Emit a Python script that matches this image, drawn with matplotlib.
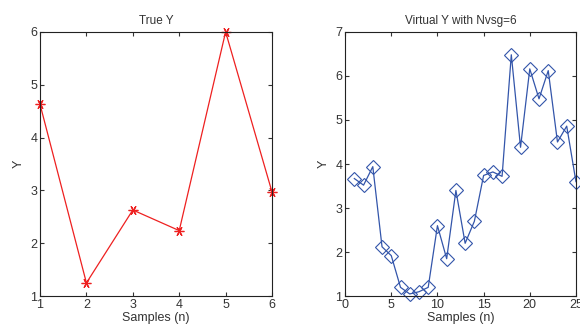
import matplotlib
matplotlib.use("Agg")
from matplotlib import pyplot as plt

# data
true_n = [1, 2, 3, 4, 5, 6]
true_y = [4.63, 1.25, 2.63, 2.24, 6.0, 2.97]

virt_n = list(range(1, 26))
virt_y = [3.67, 3.52, 3.94, 2.12, 1.92, 1.20, 1.05, 1.10, 1.20, 2.60,
          1.85, 3.40, 2.20, 2.70, 3.74, 3.82, 3.72, 6.48, 4.38, 6.16,
          5.48, 6.12, 4.50, 4.86, 3.60]

plt.rcParams['font.family'] = ['Liberation Sans', 'DejaVu Sans']
plt.rcParams['font.size'] = 9
plt.rcParams['text.color'] = '#333333'
plt.rcParams['axes.labelcolor'] = '#333333'
plt.rcParams['xtick.color'] = '#333333'
plt.rcParams['ytick.color'] = '#333333'

fig = plt.figure(figsize=(5.8, 3.32), dpi=100)
ax1 = fig.add_axes([0.069, 0.108, 0.400, 0.796])
ax2 = fig.add_axes([0.595, 0.108, 0.398, 0.796])

ax1.plot(true_n, true_y, color='#ee2020', lw=0.9, marker=(6, 2, 90), ms=7, mew=0.9)
ax1.set_xlim(1, 6)
ax1.set_ylim(1, 6)
ax1.set_xticks(range(1, 7))
ax1.set_yticks(range(1, 7))
ax1.set_title('True Y', fontsize=8.5)
ax1.set_xlabel('Samples (n)', labelpad=1)
ax1.set_ylabel('Y')

ax2.plot(virt_n, virt_y, color='#3355aa', lw=0.9, marker='D', ms=7,
         mfc='none', mew=0.8)
ax2.set_xlim(0, 25)
ax2.set_ylim(1, 7)
ax2.set_xticks(range(0, 26, 5))
ax2.set_yticks(range(1, 8))
ax2.set_title('Virtual Y with Nvsg=6', fontsize=8.5)
ax2.set_xlabel('Samples (n)', labelpad=1)
ax2.set_ylabel('Y')

for ax in (ax1, ax2):
    ax.tick_params(direction='in', top=True, right=True, length=3, pad=2)
    for sp in ax.spines.values():
        sp.set_color('#222222')
        sp.set_linewidth(0.8)
    for line in ax.lines:
        line.set_clip_on(False)

fig.savefig('out.png', dpi=100)
